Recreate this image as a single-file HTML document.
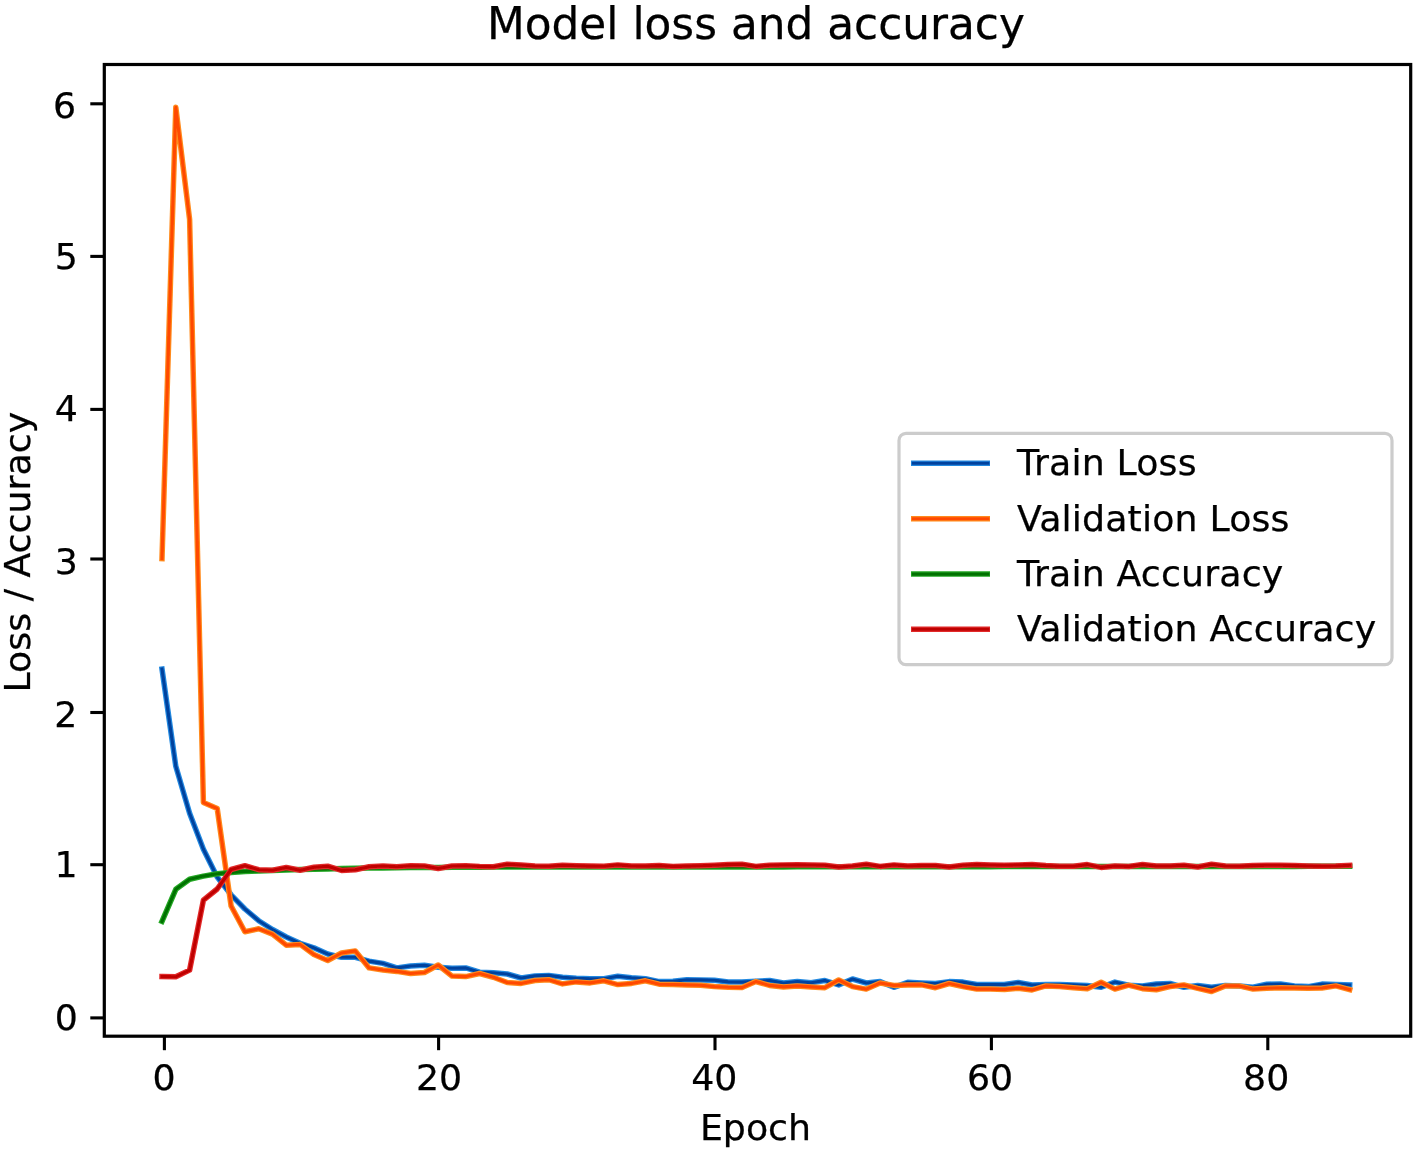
<!DOCTYPE html>
<html lang="en"><head><meta charset="utf-8"><title>Model loss and accuracy</title>
<style>
html,body{margin:0;padding:0;background:#fff;}
body{width:1417px;height:1151px;overflow:hidden;}
svg{display:block;}
text{font-family:"DejaVu Sans","Liberation Sans",sans-serif;fill:#000;stroke:#000;stroke-width:0.25px;}
.tk{font-size:36.3px;}
.ttl{font-size:43.8px;}
.lg{letter-spacing:0.15px;}
</style></head><body>
<svg width="1417" height="1151" viewBox="0 0 1417 1151">
<rect x="0" y="0" width="1417" height="1151" fill="#ffffff"/>
<defs><filter id="soft" x="-2%" y="-2%" width="104%" height="104%"><feGaussianBlur stdDeviation="0.55"/></filter></defs>
<g fill="none" stroke-linejoin="round" stroke-linecap="square" filter="url(#soft)">
<polyline points="162.0,669.0 175.8,766.3 189.6,813.2 203.4,849.2 217.2,877.0 231.1,894.8 244.9,909.0 258.7,920.7 272.5,929.5 286.3,937.0 300.1,943.3 313.9,947.8 327.7,954.0 341.5,957.3 355.3,957.3 369.1,961.1 383.0,963.4 396.8,967.9 410.6,966.0 424.4,965.3 438.2,967.2 452.0,968.3 465.8,967.9 479.6,972.2 493.4,972.8 507.2,974.0 521.1,978.0 534.9,975.9 548.7,975.4 562.5,977.3 576.3,978.3 590.1,978.7 603.9,978.7 617.7,976.3 631.5,977.7 645.4,978.7 659.2,981.6 673.0,981.2 686.8,979.8 700.6,979.9 714.4,980.2 728.2,981.9 742.0,982.1 755.8,981.2 769.6,980.5 783.5,983.0 797.3,981.6 811.1,982.8 824.9,980.5 838.7,984.9 852.5,979.0 866.3,983.0 880.1,981.6 893.9,987.3 907.7,982.3 921.6,983.0 935.4,983.5 949.2,981.6 963.0,982.1 976.8,984.5 990.6,984.5 1004.4,984.5 1018.2,982.5 1032.0,985.0 1045.8,984.5 1059.7,984.6 1073.5,984.9 1087.3,985.6 1101.1,987.3 1114.9,982.1 1128.7,985.2 1142.5,985.9 1156.3,984.0 1170.1,983.5 1183.9,987.3 1197.8,985.6 1211.6,987.3 1225.4,985.4 1239.2,985.9 1253.0,987.3 1266.8,984.2 1280.6,984.0 1294.4,985.9 1308.2,986.6 1322.0,984.1 1335.9,984.5 1349.7,984.9" stroke="#2389e0" stroke-width="5.5"/>
<polyline points="162.0,669.0 175.8,766.3 189.6,813.2 203.4,849.2 217.2,877.0 231.1,894.8 244.9,909.0 258.7,920.7 272.5,929.5 286.3,937.0 300.1,943.3 313.9,947.8 327.7,954.0 341.5,957.3 355.3,957.3 369.1,961.1 383.0,963.4 396.8,967.9 410.6,966.0 424.4,965.3 438.2,967.2 452.0,968.3 465.8,967.9 479.6,972.2 493.4,972.8 507.2,974.0 521.1,978.0 534.9,975.9 548.7,975.4 562.5,977.3 576.3,978.3 590.1,978.7 603.9,978.7 617.7,976.3 631.5,977.7 645.4,978.7 659.2,981.6 673.0,981.2 686.8,979.8 700.6,979.9 714.4,980.2 728.2,981.9 742.0,982.1 755.8,981.2 769.6,980.5 783.5,983.0 797.3,981.6 811.1,982.8 824.9,980.5 838.7,984.9 852.5,979.0 866.3,983.0 880.1,981.6 893.9,987.3 907.7,982.3 921.6,983.0 935.4,983.5 949.2,981.6 963.0,982.1 976.8,984.5 990.6,984.5 1004.4,984.5 1018.2,982.5 1032.0,985.0 1045.8,984.5 1059.7,984.6 1073.5,984.9 1087.3,985.6 1101.1,987.3 1114.9,982.1 1128.7,985.2 1142.5,985.9 1156.3,984.0 1170.1,983.5 1183.9,987.3 1197.8,985.6 1211.6,987.3 1225.4,985.4 1239.2,985.9 1253.0,987.3 1266.8,984.2 1280.6,984.0 1294.4,985.9 1308.2,986.6 1322.0,984.1 1335.9,984.5 1349.7,984.9" stroke="#00429e" stroke-width="3.1"/>
<polyline points="162.0,558.6 175.8,107.3 189.6,219.3 203.4,802.5 217.2,808.5 231.1,906.0 244.9,931.8 258.7,928.8 272.5,934.1 286.3,945.2 300.1,944.4 313.9,954.5 327.7,960.5 341.5,953.0 355.3,950.9 369.1,967.9 383.0,970.0 396.8,971.4 410.6,973.5 424.4,972.5 438.2,965.0 452.0,976.1 465.8,976.6 479.6,973.5 493.4,977.3 507.2,982.5 521.1,983.4 534.9,980.5 548.7,979.7 562.5,983.9 576.3,981.9 590.1,982.9 603.9,980.8 617.7,984.6 631.5,983.4 645.4,980.8 659.2,984.2 673.0,984.5 686.8,984.9 700.6,985.2 714.4,986.6 728.2,987.3 742.0,987.6 755.8,981.6 769.6,985.4 783.5,986.9 797.3,985.9 811.1,986.9 824.9,987.7 838.7,980.0 852.5,986.6 866.3,989.1 880.1,983.0 893.9,985.4 907.7,984.9 921.6,984.9 935.4,987.7 949.2,983.5 963.0,986.6 976.8,989.1 990.6,989.1 1004.4,989.4 1018.2,988.2 1032.0,989.9 1045.8,985.9 1059.7,986.6 1073.5,987.7 1087.3,988.7 1101.1,982.3 1114.9,989.1 1128.7,985.2 1142.5,988.7 1156.3,989.7 1170.1,986.6 1183.9,984.9 1197.8,988.4 1211.6,991.5 1225.4,985.9 1239.2,985.9 1253.0,989.1 1266.8,988.3 1280.6,987.7 1294.4,988.0 1308.2,988.3 1322.0,988.0 1335.9,985.9 1349.7,989.7" stroke="#ff8a1c" stroke-width="5.5"/>
<polyline points="162.0,558.6 175.8,107.3 189.6,219.3 203.4,802.5 217.2,808.5 231.1,906.0 244.9,931.8 258.7,928.8 272.5,934.1 286.3,945.2 300.1,944.4 313.9,954.5 327.7,960.5 341.5,953.0 355.3,950.9 369.1,967.9 383.0,970.0 396.8,971.4 410.6,973.5 424.4,972.5 438.2,965.0 452.0,976.1 465.8,976.6 479.6,973.5 493.4,977.3 507.2,982.5 521.1,983.4 534.9,980.5 548.7,979.7 562.5,983.9 576.3,981.9 590.1,982.9 603.9,980.8 617.7,984.6 631.5,983.4 645.4,980.8 659.2,984.2 673.0,984.5 686.8,984.9 700.6,985.2 714.4,986.6 728.2,987.3 742.0,987.6 755.8,981.6 769.6,985.4 783.5,986.9 797.3,985.9 811.1,986.9 824.9,987.7 838.7,980.0 852.5,986.6 866.3,989.1 880.1,983.0 893.9,985.4 907.7,984.9 921.6,984.9 935.4,987.7 949.2,983.5 963.0,986.6 976.8,989.1 990.6,989.1 1004.4,989.4 1018.2,988.2 1032.0,989.9 1045.8,985.9 1059.7,986.6 1073.5,987.7 1087.3,988.7 1101.1,982.3 1114.9,989.1 1128.7,985.2 1142.5,988.7 1156.3,989.7 1170.1,986.6 1183.9,984.9 1197.8,988.4 1211.6,991.5 1225.4,985.9 1239.2,985.9 1253.0,989.1 1266.8,988.3 1280.6,987.7 1294.4,988.0 1308.2,988.3 1322.0,988.0 1335.9,985.9 1349.7,989.7" stroke="#ff4a00" stroke-width="3.1"/>
<polyline points="162.0,921.4 175.8,889.3 189.6,879.2 203.4,876.1 217.2,873.8 231.1,872.4 244.9,871.4 258.7,870.9 272.5,870.4 286.3,870.0 300.1,869.6 313.9,869.2 327.7,868.9 341.5,868.6 355.3,868.3 369.1,868.1 383.0,867.9 396.8,867.7 410.6,867.6 424.4,867.5 438.2,867.4 452.0,867.2 465.8,867.2 479.6,867.2 493.4,867.1 507.2,867.1 521.1,867.1 534.9,867.1 548.7,867.1 562.5,867.1 576.3,867.1 590.1,867.1 603.9,867.0 617.7,867.0 631.5,867.0 645.4,867.0 659.2,867.0 673.0,867.0 686.8,867.0 700.6,866.9 714.4,866.9 728.2,866.9 742.0,866.9 755.8,866.9 769.6,866.9 783.5,866.9 797.3,866.8 811.1,866.8 824.9,866.8 838.7,866.8 852.5,866.8 866.3,866.8 880.1,866.8 893.9,866.8 907.7,866.7 921.6,866.7 935.4,866.7 949.2,866.7 963.0,866.7 976.8,866.7 990.6,866.7 1004.4,866.6 1018.2,866.6 1032.0,866.6 1045.8,866.6 1059.7,866.6 1073.5,866.6 1087.3,866.6 1101.1,866.5 1114.9,866.5 1128.7,866.5 1142.5,866.5 1156.3,866.5 1170.1,866.5 1183.9,866.5 1197.8,866.5 1211.6,866.4 1225.4,866.4 1239.2,866.4 1253.0,866.4 1266.8,866.4 1280.6,866.4 1294.4,866.4 1308.2,866.3 1322.0,866.3 1335.9,866.3 1349.7,866.3" stroke="#25a825" stroke-width="5.5"/>
<polyline points="162.0,921.4 175.8,889.3 189.6,879.2 203.4,876.1 217.2,873.8 231.1,872.4 244.9,871.4 258.7,870.9 272.5,870.4 286.3,870.0 300.1,869.6 313.9,869.2 327.7,868.9 341.5,868.6 355.3,868.3 369.1,868.1 383.0,867.9 396.8,867.7 410.6,867.6 424.4,867.5 438.2,867.4 452.0,867.2 465.8,867.2 479.6,867.2 493.4,867.1 507.2,867.1 521.1,867.1 534.9,867.1 548.7,867.1 562.5,867.1 576.3,867.1 590.1,867.1 603.9,867.0 617.7,867.0 631.5,867.0 645.4,867.0 659.2,867.0 673.0,867.0 686.8,867.0 700.6,866.9 714.4,866.9 728.2,866.9 742.0,866.9 755.8,866.9 769.6,866.9 783.5,866.9 797.3,866.8 811.1,866.8 824.9,866.8 838.7,866.8 852.5,866.8 866.3,866.8 880.1,866.8 893.9,866.8 907.7,866.7 921.6,866.7 935.4,866.7 949.2,866.7 963.0,866.7 976.8,866.7 990.6,866.7 1004.4,866.6 1018.2,866.6 1032.0,866.6 1045.8,866.6 1059.7,866.6 1073.5,866.6 1087.3,866.6 1101.1,866.5 1114.9,866.5 1128.7,866.5 1142.5,866.5 1156.3,866.5 1170.1,866.5 1183.9,866.5 1197.8,866.5 1211.6,866.4 1225.4,866.4 1239.2,866.4 1253.0,866.4 1266.8,866.4 1280.6,866.4 1294.4,866.4 1308.2,866.3 1322.0,866.3 1335.9,866.3 1349.7,866.3" stroke="#007200" stroke-width="3.1"/>
<polyline points="162.0,976.6 175.8,976.8 189.6,970.1 203.4,900.2 217.2,889.0 231.1,869.5 244.9,865.7 258.7,869.7 272.5,870.2 286.3,867.5 300.1,870.2 313.9,867.3 327.7,866.2 341.5,870.4 355.3,869.8 369.1,866.7 383.0,866.0 396.8,866.7 410.6,865.7 424.4,866.0 438.2,868.5 452.0,866.0 465.8,865.7 479.6,866.4 493.4,866.7 507.2,864.3 521.1,865.0 534.9,866.0 548.7,866.3 562.5,865.3 576.3,865.7 590.1,866.1 603.9,866.3 617.7,864.9 631.5,866.0 645.4,866.1 659.2,865.6 673.0,866.4 686.8,866.1 700.6,865.7 714.4,865.3 728.2,864.6 742.0,864.3 755.8,866.4 769.6,865.3 783.5,864.9 797.3,864.7 811.1,865.0 824.9,865.3 838.7,867.0 852.5,866.0 866.3,864.3 880.1,866.4 893.9,864.9 907.7,866.0 921.6,865.6 935.4,865.6 949.2,867.0 963.0,865.3 976.8,864.6 990.6,865.0 1004.4,865.3 1018.2,864.9 1032.0,864.6 1045.8,865.6 1059.7,866.2 1073.5,866.3 1087.3,864.6 1101.1,867.4 1114.9,866.0 1128.7,866.4 1142.5,864.6 1156.3,866.0 1170.1,866.0 1183.9,865.3 1197.8,867.0 1211.6,864.3 1225.4,866.0 1239.2,866.3 1253.0,865.6 1266.8,865.3 1280.6,865.3 1294.4,865.6 1308.2,866.0 1322.0,866.3 1335.9,866.0 1349.7,865.3" stroke="#e22c2c" stroke-width="5.5"/>
<polyline points="162.0,976.6 175.8,976.8 189.6,970.1 203.4,900.2 217.2,889.0 231.1,869.5 244.9,865.7 258.7,869.7 272.5,870.2 286.3,867.5 300.1,870.2 313.9,867.3 327.7,866.2 341.5,870.4 355.3,869.8 369.1,866.7 383.0,866.0 396.8,866.7 410.6,865.7 424.4,866.0 438.2,868.5 452.0,866.0 465.8,865.7 479.6,866.4 493.4,866.7 507.2,864.3 521.1,865.0 534.9,866.0 548.7,866.3 562.5,865.3 576.3,865.7 590.1,866.1 603.9,866.3 617.7,864.9 631.5,866.0 645.4,866.1 659.2,865.6 673.0,866.4 686.8,866.1 700.6,865.7 714.4,865.3 728.2,864.6 742.0,864.3 755.8,866.4 769.6,865.3 783.5,864.9 797.3,864.7 811.1,865.0 824.9,865.3 838.7,867.0 852.5,866.0 866.3,864.3 880.1,866.4 893.9,864.9 907.7,866.0 921.6,865.6 935.4,865.6 949.2,867.0 963.0,865.3 976.8,864.6 990.6,865.0 1004.4,865.3 1018.2,864.9 1032.0,864.6 1045.8,865.6 1059.7,866.2 1073.5,866.3 1087.3,864.6 1101.1,867.4 1114.9,866.0 1128.7,866.4 1142.5,864.6 1156.3,866.0 1170.1,866.0 1183.9,865.3 1197.8,867.0 1211.6,864.3 1225.4,866.0 1239.2,866.3 1253.0,865.6 1266.8,865.3 1280.6,865.3 1294.4,865.6 1308.2,866.0 1322.0,866.3 1335.9,866.0 1349.7,865.3" stroke="#bf0000" stroke-width="3.1"/>
</g>
<rect x="104.3" y="64.5" width="1306.4" height="971.7" fill="none" stroke="#000" stroke-width="3.2" stroke-linejoin="miter"/>
<g stroke="#000" stroke-width="3.1" stroke-linecap="butt">
<line x1="164.4" y1="1036.2" x2="164.4" y2="1050.2"/>
<line x1="438.6" y1="1036.2" x2="438.6" y2="1050.2"/>
<line x1="715.0" y1="1036.2" x2="715.0" y2="1050.2"/>
<line x1="991.4" y1="1036.2" x2="991.4" y2="1050.2"/>
<line x1="1267.8" y1="1036.2" x2="1267.8" y2="1050.2"/>
<line x1="90.3" y1="1017.9" x2="104.3" y2="1017.9"/>
<line x1="90.3" y1="864.7" x2="104.3" y2="864.7"/>
<line x1="90.3" y1="712.5" x2="104.3" y2="712.5"/>
<line x1="90.3" y1="559.0" x2="104.3" y2="559.0"/>
<line x1="90.3" y1="409.4" x2="104.3" y2="409.4"/>
<line x1="90.3" y1="256.4" x2="104.3" y2="256.4"/>
<line x1="90.3" y1="103.8" x2="104.3" y2="103.8"/>
</g>
<text class="tk" x="164.1" y="1090.4" text-anchor="middle">0</text>
<text class="tk" x="439.0" y="1090.4" text-anchor="middle">20</text>
<text class="tk" x="714.3" y="1090.4" text-anchor="middle">40</text>
<text class="tk" x="990.0" y="1090.4" text-anchor="middle">60</text>
<text class="tk" x="1266.2" y="1090.4" text-anchor="middle">80</text>
<text class="tk" x="77.9" y="1029.9" text-anchor="end">0</text>
<text class="tk" x="77.6" y="877.3" text-anchor="end">1</text>
<text class="tk" x="77.4" y="726.9" text-anchor="end">2</text>
<text class="tk" x="77.9" y="574.0" text-anchor="end">3</text>
<text class="tk" x="77.9" y="420.8" text-anchor="end">4</text>
<text class="tk" x="77.9" y="268.6" text-anchor="end">5</text>
<text class="tk" x="76.0" y="118.2" text-anchor="end">6</text>
<text class="tk" x="755.5" y="1140.2" text-anchor="middle">Epoch</text>
<text class="tk" transform="translate(29.6,552.2) rotate(-90)" text-anchor="middle">Loss / Accuracy</text>
<text class="ttl" x="755.9" y="38.6" text-anchor="middle">Model loss and accuracy</text>
<rect x="899.0" y="433.4" width="493.0" height="231.3" rx="7" ry="7" fill="#ffffff" fill-opacity="0.8" stroke="#cccccc" stroke-width="3.2"/>
<g fill="none" stroke-linecap="square" filter="url(#soft)">
<line x1="913.4" y1="463.3" x2="987.9" y2="463.3" stroke="#2389e0" stroke-width="5.5"/>
<line x1="913.4" y1="463.3" x2="987.9" y2="463.3" stroke="#00429e" stroke-width="3.1"/>
<line x1="913.4" y1="518.7" x2="987.9" y2="518.7" stroke="#ff8a1c" stroke-width="5.5"/>
<line x1="913.4" y1="518.7" x2="987.9" y2="518.7" stroke="#ff4a00" stroke-width="3.1"/>
<line x1="913.4" y1="574.1" x2="987.9" y2="574.1" stroke="#25a825" stroke-width="5.5"/>
<line x1="913.4" y1="574.1" x2="987.9" y2="574.1" stroke="#007200" stroke-width="3.1"/>
<line x1="913.4" y1="629.2" x2="987.9" y2="629.2" stroke="#e22c2c" stroke-width="5.5"/>
<line x1="913.4" y1="629.2" x2="987.9" y2="629.2" stroke="#bf0000" stroke-width="3.1"/>
</g>
<text class="tk lg" x="1017.0" y="475.2">Train Loss</text>
<text class="tk lg" x="1017.0" y="530.6">Validation Loss</text>
<text class="tk lg" x="1017.0" y="586.0">Train Accuracy</text>
<text class="tk lg" x="1017.0" y="641.1">Validation Accuracy</text>
</svg>
</body></html>
